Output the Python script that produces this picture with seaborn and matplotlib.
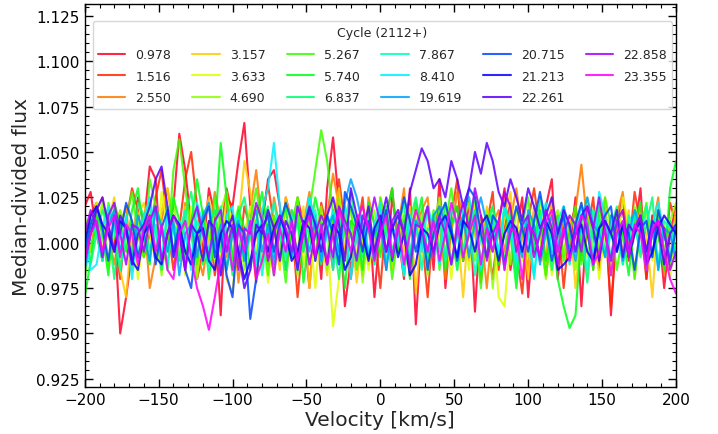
import numpy as np
import pandas as pd
import matplotlib
matplotlib.use("Agg")
import matplotlib.pyplot as plt
import seaborn as sns
from matplotlib.ticker import MultipleLocator

# Cycle labels (2112+)
cycles = ["0.978", "1.516", "2.550", "3.157", "3.633", "4.690", "5.267", "5.740",
          "6.837", "7.867", "8.410", "19.619", "20.715", "21.213", "22.261",
          "22.858", "23.355"]

# Median-divided flux, stored as deviation from 1 in units of 0.001,
# sampled every 4 km/s from -200 to +200 km/s
c0978 = [20, 28, 5, -10, 15, 10, -50, -30, -5, 25,
         10, 42, 35, -15, 5, 20, 60, 40, 10, -20,
         -5, 30, 15, -40, 25, 20, 45, 66, 20, -10,
         10, 35, 40, 20, -15, 5, 25, 10, -25, 15,
         -20, 30, 58, 20, -35, -10, 15, -5, 20, -30,
         10, -15, 25, 5, -20, 30, -45, 10, 20, -15,
         35, -25, 10, 20, -10, 25, -38, 15, 5, -20,
         10, 30, -15, 5, 25, -30, 10, -10, 20, 35,
         -20, 10, -5, 25, -35, 15, 5, -15, 20, -40,
         10, 25, -10, 5, 30, -20, 15, 10, -25, 5,
         20]
c1516 = [-5, 15, 22, 8, -12, 3, -20, 12, 30, 18,
         -8, 5, 25, 40, 10, -15, 8, 35, 50, 20,
         -5, 12, -18, 5, 30, 15, -10, 20, 8, -22,
         14, 32, 10, -8, 25, 12, -30, 5, 18, -10,
         22, 8, -15, 35, 10, -20, 5, 25, -12, 8,
         -25, 15, 30, -5, 10, -18, 22, 5, -30, 12,
         20, -8, 15, 35, -10, 5, 18, -22, 10, 28,
         -15, 8, 22, -5, -28, 12, 30, 5, -18, 10,
         15, -25, 8, 20, -10, 5, 25, -15, 12, -35,
         8, 18, -5, 28, 10, -20, 15, 5, -12, 22,
         10]
c2550 = [10, -5, 18, 25, 5, -12, 8, 20, -15, 3,
         15, -25, -8, 12, 30, 8, -10, 22, 15, -5,
         -18, 5, 28, 12, -8, 15, -22, 5, 18, 40,
         10, -12, 25, 8, -5, 18, -15, 10, 28, 5,
         -10, 15, 38, 20, -8, 12, 5, -18, 25, 10,
         -5, 20, -12, 8, 30, -15, 5, 18, 25, -8,
         12, -20, 5, 28, 15, -10, 22, 8, -25, 10,
         18, -5, 12, 30, 5, -15, 20, 8, -10, 25,
         -8, 12, 5, 18, 43, 10, -15, 22, 5, -10,
         15, 28, -5, 10, 20, -12, 8, 25, -18, 12,
         5]
c3157 = [-10, 5, 18, -5, 12, 25, -15, -30, 8, 15,
         22, 5, -10, 18, 30, 12, -8, 20, 5, -18,
         10, 25, -5, 15, -20, -28, 10, 45, 28, 5,
         -12, 18, 8, -15, 25, 10, -5, 20, -25, 12,
         5, -18, 15, 30, -8, 10, -22, 5, 18, -10,
         25, 8, -15, 12, -5, 20, -28, 10, 15, -8,
         5, 22, -12, 10, -30, 15, 5, -18, 20, 8,
         -10, 15, 28, -5, 10, -20, 18, 5, -12, 22,
         10, -8, 15, -25, 5, 20, -10, 12, 25, -15,
         8, -5, 18, -20, 12, 5, -30, 15, 8, -10,
         18]
c3633 = [-8, 10, 22, 5, -15, 8, 18, -5, 12, -20,
         5, 15, -10, 28, 8, -5, 12, -18, 20, 10,
         -12, 5, 18, -8, 25, 10, -15, 5, 20, -5,
         12, -22, 8, 15, -10, 5, 25, -12, 8, -25,
         15, 5, -46, -20, 10, 18, -8, 12, -15, 5,
         20, -10, 8, 15, -18, 5, 22, -12, 10, -5,
         18, 8, -20, 12, 5, -15, 25, 10, -8, 15,
         -30, -35, 5, 18, -10, 12, -5, 20, 8, -18,
         10, 15, -12, 5, 22, -8, 12, -20, 8, 15,
         -5, 25, 10, -15, 8, 18, -10, 5, 12, -20,
         8]
c4690 = [15, -5, 10, 22, -12, 5, 18, 8, -15, 12,
         -8, 20, 5, -18, 10, 25, -5, 12, 8, -20,
         15, 5, -10, 18, 28, -8, 10, -15, 5, 20,
         -12, 8, 15, -5, 22, 10, -18, 5, 12, -8,
         20, -15, 8, 25, 5, -10, 15, -22, 10, 18,
         -5, 12, -12, 8, 20, -8, 5, 15, -18, 10,
         25, -5, 8, -15, 12, 22, -10, 5, 18, -25,
         10, 5, -12, 20, 8, -8, 15, 5, -20, 12,
         18, -5, 10, -15, 5, 25, -10, 12, 8, -18,
         15, 5, -8, 20, 10, -12, 5, 18, -5, 12,
         22]
c5267 = [-20, 5, 15, -10, 22, 8, -15, 12, 28, 5,
         -8, 35, 20, 10, -5, 40, 57, 30, 5, -12,
         18, -8, 25, 10, -15, 5, 20, -10, 12, 30,
         8, -18, 15, 5, -22, 10, 25, -5, 18, 40,
         62, 45, 15, -10, 8, 20, -15, 5, 12, -8,
         25, 10, -20, 5, 15, -12, 22, 8, -5, 18,
         -15, 10, 30, 5, -10, 15, 8, -25, 12, 20,
         -8, 5, 18, -15, 10, 25, -5, 12, -18, 8,
         15, -10, 5, 20, -12, 8, 18, -5, 25, 10,
         -15, 5, 12, -20, 8, 22, -8, 15, 5, -12,
         10]
c5740 = [-30, -10, 15, 5, -18, 22, 10, -5, 18, 30,
         5, -12, 20, 8, -15, 25, 12, -8, 10, 35,
         15, -20, 5, 55, 25, -10, 18, 8, -15, 12,
         28, 5, -18, 10, 20, -8, 15, -22, 5, 25,
         10, -12, 18, 5, -25, 12, 8, -15, 22, 10,
         -8, 15, 30, -5, 12, -20, 8, 25, -10, 5,
         18, -15, 10, 20, -8, 5, 28, -18, 12, 8,
         -12, 20, 5, -25, 10, 15, -5, 18, -10, 8,
         -20, -35, -47, -40, 5, 12, -15, 20, 8, -10,
         15, 5, -18, 12, 22, -8, 10, 5, -15, 30,
         45]
c6837 = [8, -12, 5, 18, 10, -20, 12, 5, -8, 22,
         15, -5, 10, -15, 20, 8, -10, 15, 28, 5,
         -12, 10, 18, -5, 8, -18, 15, 25, 5, -10,
         12, 20, -8, 5, -15, 18, 10, -5, 25, 8,
         -12, 15, 5, -20, 12, 28, 5, -8, 15, -12,
         10, 20, -5, 8, -18, 12, 25, 5, -10, 15,
         -5, 22, 8, -15, 10, 5, 18, -12, 8, 20,
         5, -10, 15, -20, 8, 12, -5, 25, 10, -15,
         5, 18, -8, 12, 5, -22, 10, 15, -5, 8,
         20, -12, 5, 15, -8, 10, 25, -15, 5, 12,
         -5]
c7867 = [-5, 12, 5, -10, 18, 8, -15, 5, 10, -8,
         15, 22, -5, 8, -12, 10, 5, 18, -8, 12,
         5, -15, 10, 20, -5, 8, 15, -10, 5, 12,
         -18, 8, 22, 5, -8, 15, -12, 10, 5, 18,
         -5, 12, -15, 8, 20, 5, -10, 15, 8, -12,
         18, 5, -8, 10, 22, -5, 12, -15, 8, 5,
         15, -10, 20, 8, -5, 12, -18, 5, 10, 15,
         -8, 22, 5, -12, 10, 8, -20, 15, 5, -5,
         12, 20, -10, 8, 5, -15, 18, 10, -8, 5,
         12, -12, 15, 8, -5, 20, 5, -10, 12, 8,
         -8]
c8410 = [5, -15, -12, 8, 20, 10, -5, 15, -20, 8,
         12, 25, 5, -10, 18, -8, 12, 5, -15, 22,
         10, -5, 8, -18, 15, 20, -8, 5, 12, -12,
         18, 30, 55, 20, -5, 10, -15, 8, 25, 12,
         -10, 5, 18, -8, 12, -20, 5, 15, -5, 10,
         22, -12, 8, 5, -18, 15, 10, -5, 20, 8,
         -12, 15, 5, -8, 18, 25, 10, -15, 5, 12,
         -5, 20, 8, -10, 15, 5, -18, 12, 22, -5,
         8, 15, -12, 5, 20, 10, -8, 28, 15, -10,
         5, 12, -5, 18, 8, -15, 10, 22, 5, -8,
         12]
c19619 = [-15, 5, 12, -8, 10, 18, -5, 8, -12, 15,
          5, -10, 20, 8, -5, 12, -18, 5, 10, -8,
          15, 22, -5, 10, -15, 5, 12, -10, 8, 18,
          -5, 10, -12, 15, 5, -8, 20, 10, -5, 12,
          -10, 8, 15, -5, 22, 35, 25, 10, -8, 5,
          12, -15, 8, 18, 5, -10, 12, 8, -5, 15,
          20, 10, -12, 5, 15, -8, 12, 25, 10, -5,
          8, -15, 12, 5, -8, 18, 10, -12, 5, 15,
          -5, 20, 8, -10, 12, 25, 10, 5, -8, 15,
          12, -10, 5, 18, 8, -5, 12, -15, 8, 5,
          -10]
c20715 = [-5, 10, 20, 8, -10, 15, 5, 22, 12, -8,
          5, 15, -12, 8, 18, -5, 10, -15, -25, 5,
          12, 20, -8, 5, -18, -30, 10, 5, -42, -20,
          8, 15, -5, 10, 22, 12, -8, 5, 18, -10,
          8, 15, 5, -12, 28, 20, 10, -5, 12, -8,
          5, 18, -10, 8, 25, 12, -5, 10, -15, 5,
          15, 22, 8, -10, 12, 30, 25, 5, -8, 15,
          10, -12, 5, 20, 8, -5, 12, 28, 10, -10,
          5, 15, -8, 10, 22, 5, -12, 8, 15, 20,
          -5, 10, 5, -15, 8, 12, -8, 18, 5, -10,
          8]
c21213 = [0, 15, 20, 10, 5, -5, 12, 8, -10, -15,
          5, 10, -8, -12, 5, 15, 10, -5, -12, 5,
          8, -10, -15, 5, 12, 8, -5, -20, -10, 5,
          10, -5, 8, 15, 5, -10, -5, 12, 8, -8,
          5, -12, 10, 5, -15, -8, 12, 5, -10, 8,
          15, -5, 10, -8, 5, -18, -12, 8, 5, -5,
          10, 15, 5, -8, 12, 8, -5, 10, 15, 5,
          -10, 5, 12, 8, -5, 10, 5, -8, 12, 5,
          -15, -12, -8, 5, 10, -5, -10, 8, 12, 5,
          -5, 10, -8, 5, 12, -12, -5, 8, 15, 10,
          5]
c22261 = [-10, 5, 18, 25, 10, -5, 15, 8, -12, 5,
          10, 20, 35, 42, 20, -8, 5, -15, 10, 5,
          -10, 12, 8, -18, 5, 15, -5, -25, -15, 10,
          5, 18, 8, -10, 12, 5, -15, 8, 20, 10,
          -5, 15, 25, 10, -10, 30, 15, 5, 20, -5,
          10, 25, 8, 15, 5, 28, 40, 52, 45, 30,
          35, 25, 45, 35, 20, 30, 50, 38, 55, 45,
          28, 20, 35, 25, 12, 30, 20, 8, 15, 25,
          5, 18, 10, -5, 15, 20, 8, -10, 12, 5,
          18, -8, 10, 5, 15, -5, 12, 8, -12, 5,
          10]
c22858 = [5, 18, 10, -8, 15, 22, 5, -12, 10, 8,
          -5, 12, 20, -10, 5, 15, 8, -15, 10, 20,
          5, -8, 12, 18, -5, 10, -15, 8, 5, 22,
          12, -10, 5, 15, 8, -5, 20, 10, -12, 5,
          15, 8, -8, 20, 12, 5, -10, 15, 8, 25,
          10, -5, 12, 18, 5, -15, 10, 8, 20, -8,
          15, 5, -12, 10, 22, 8, 30, 15, -10, 5,
          12, 28, 20, -5, 10, 15, -8, 5, 18, 8,
          -12, 5, 15, 10, -5, 20, 8, 25, 5, -10,
          12, 18, -5, 8, 15, -10, 5, 12, 8, -15,
          -5]
c23355 = [-10, 5, 12, -5, 8, 15, -8, 10, 5, -12,
          8, 15, -5, 10, -15, -20, 5, 12, -8, -25,
          -35, -48, -30, -10, 5, -15, 8, -5, 12, -20,
          -10, 5, -18, 8, -5, 12, -10, 5, 15, -8,
          10, -12, 5, 18, 8, -5, 12, 20, 8, -10,
          5, 15, -8, 10, -12, 5, 18, 8, -5, 12,
          -10, 5, 22, 10, -8, 5, 15, -12, 8, -5,
          12, -15, 8, 5, -20, 10, 5, -8, 12, 18,
          -5, 8, -10, 5, 15, 10, -12, -5, 8, -18,
          5, 12, -8, 10, 5, -15, 8, 12, -5, -20,
          -28]

series = [c0978, c1516, c2550, c3157, c3633, c4690, c5267, c5740, c6837,
          c7867, c8410, c19619, c20715, c21213, c22261, c22858, c23355]

frames = []
for lab, dev in zip(cycles, series):
    dev = np.asarray(dev, dtype=float)
    vel = np.linspace(-200, 200, len(dev))
    frames.append(pd.DataFrame({"Velocity": vel,
                                "Flux": 1.0 + dev / 1000.0,
                                "Cycle": lab}))
df = pd.concat(frames, ignore_index=True)

sns.set_style("ticks")
plt.rcParams["font.family"] = ["DejaVu Sans"]

fig = plt.figure(figsize=(7.18, 4.35), dpi=100)
ax = fig.add_axes([0.118, 0.108, 0.8235, 0.8805])

palette = [plt.get_cmap("gist_rainbow")(x) for x in np.linspace(0, 0.954, len(cycles))]
sns.lineplot(data=df, x="Velocity", y="Flux", hue="Cycle", hue_order=cycles,
             palette=palette, linewidth=1.5, alpha=0.85, ax=ax, estimator=None,
             sort=False)

ax.set_xlim(-200, 200)
ax.set_ylim(0.9205, 1.1315)
ax.xaxis.set_major_locator(MultipleLocator(50))
ax.xaxis.set_minor_locator(MultipleLocator(10))
ax.yaxis.set_major_locator(MultipleLocator(0.025))
ax.yaxis.set_minor_locator(MultipleLocator(0.005))
ax.yaxis.set_major_formatter(matplotlib.ticker.FormatStrFormatter("%.3f"))
ax.tick_params(which="both", direction="in", top=True, right=True, colors="black")
ax.tick_params(which="major", length=6, width=1, labelsize=11)
ax.tick_params(which="minor", length=3, width=0.8)
for s in ax.spines.values():
    s.set_color("black")
    s.set_linewidth(1)

ax.set_xlabel("Velocity [km/s]", fontsize=14.5, labelpad=2)
ax.set_ylabel("Median-divided flux", fontsize=14.5, labelpad=4)

leg = ax.legend(title="Cycle (2112+)", ncol=6, fontsize=9, title_fontsize=9,
                loc="upper left", bbox_to_anchor=(0.0135, 0.0, 0.98, 0.955),
                mode="expand", borderaxespad=0, frameon=True, handlelength=2.2,
                labelspacing=0.7, borderpad=0.4)
leg.get_frame().set_edgecolor("#cccccc")
for h in leg.legend_handles:
    h.set_linewidth(1.5)

fig.savefig("out.png", dpi=100)
